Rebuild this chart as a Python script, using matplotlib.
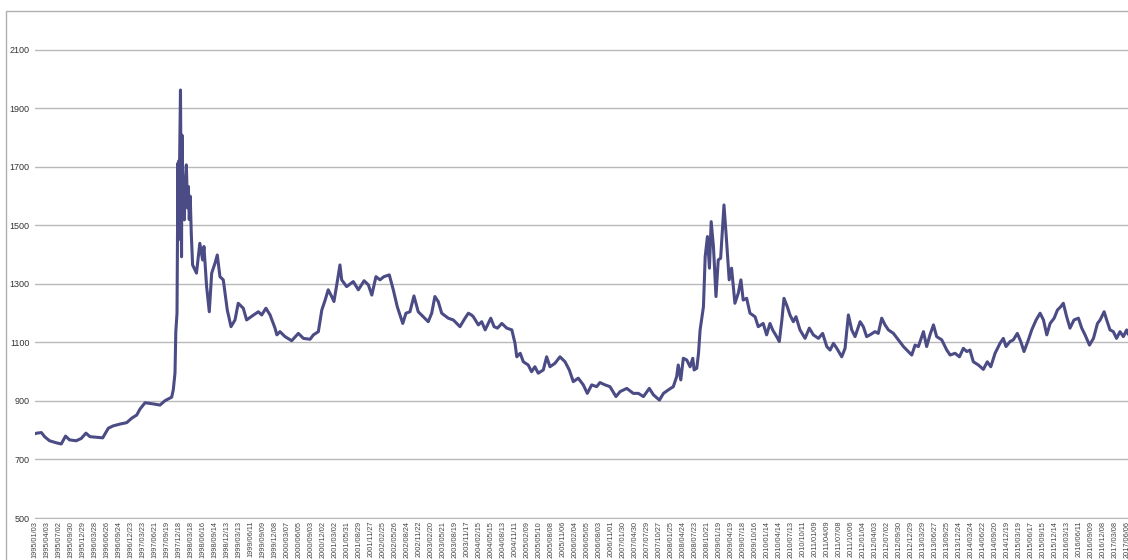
import matplotlib
matplotlib.use('Agg')
import matplotlib.pyplot as plt
from matplotlib.patches import Rectangle
import pandas as pd

plt.rcParams['font.family'] = ['Liberation Sans', 'DejaVu Sans']

# KRW/USD daily rate
dates = [
    # 1995
    '1995-01-03', '1995-01-16', '1995-02-20', '1995-03-16', '1995-04-22', '1995-06-12',
    '1995-07-19', '1995-08-20', '1995-09-19', '1995-11-08', '1995-12-16',
    # 1996
    '1996-01-20', '1996-02-19', '1996-04-10', '1996-05-25', '1996-07-06', '1996-08-12',
    '1996-10-01', '1996-11-21', '1996-12-28',
    # 1997
    '1997-02-04', '1997-02-28', '1997-04-07', '1997-06-08', '1997-07-28', '1997-09-04',
    '1997-10-24', '1997-11-05', '1997-11-18', '1997-11-24', '1997-12-03', '1997-12-10',
    '1997-12-12', '1997-12-15', '1997-12-18', '1997-12-22', '1997-12-29',
    # 1998
    '1998-01-06', '1998-01-09', '1998-01-16', '1998-01-27', '1998-02-03', '1998-02-11',
    '1998-02-20', '1998-02-26', '1998-03-05', '1998-03-12', '1998-03-20', '1998-03-30',
    '1998-04-28', '1998-05-23', '1998-06-13', '1998-06-23', '1998-07-13', '1998-08-02',
    '1998-08-20', '1998-09-14', '1998-10-01', '1998-10-21', '1998-11-15', '1998-12-15',
    # 1999
    '1999-01-12', '1999-02-11', '1999-03-07', '1999-04-14', '1999-05-09', '1999-06-18',
    '1999-08-05', '1999-08-30', '1999-10-01', '1999-11-01', '1999-12-08', '1999-12-22',
    # 2000
    '2000-01-14', '2000-02-21', '2000-04-11', '2000-05-31', '2000-07-08', '2000-08-27',
    '2000-09-21', '2000-10-28', '2000-11-23', '2000-12-18',
    # 2001
    '2001-01-10', '2001-02-05', '2001-02-22', '2001-03-19', '2001-04-08', '2001-04-21',
    '2001-05-28', '2001-07-17', '2001-08-24', '2001-10-06', '2001-11-07', '2001-12-03',
    # 2002
    '2002-01-03', '2002-02-02', '2002-03-04', '2002-04-13', '2002-05-13', '2002-06-12',
    '2002-07-23', '2002-08-16', '2002-09-15', '2002-10-15', '2002-11-16', '2002-12-23',
    # 2003
    '2003-01-30', '2003-02-25', '2003-03-21', '2003-04-15', '2003-05-11', '2003-06-29',
    '2003-08-06', '2003-09-25', '2003-11-02', '2003-11-27', '2003-12-20',
    # 2004
    '2004-01-03', '2004-02-10', '2004-03-06', '2004-04-01', '2004-05-13', '2004-06-07',
    '2004-07-02', '2004-08-04', '2004-09-10', '2004-10-18', '2004-11-11', '2004-11-24',
    '2004-12-20',
    # 2005
    '2005-01-12', '2005-02-18', '2005-03-15', '2005-04-09', '2005-05-04', '2005-06-11',
    '2005-07-06', '2005-07-31', '2005-09-07', '2005-10-14', '2005-11-21', '2005-12-23',
    # 2006
    '2006-01-22', '2006-02-28', '2006-04-07', '2006-05-07', '2006-06-09', '2006-07-16',
    '2006-08-10', '2006-09-17', '2006-10-24', '2006-12-08',
    # 2007
    '2007-01-08', '2007-02-27', '2007-04-17', '2007-05-25', '2007-07-02', '2007-08-15',
    '2007-09-15', '2007-10-30', '2007-11-29',
    # 2008
    '2008-01-05', '2008-02-11', '2008-03-07', '2008-03-19', '2008-04-07', '2008-04-26',
    '2008-05-22', '2008-06-16', '2008-07-06', '2008-07-16', '2008-08-05', '2008-08-18',
    '2008-08-30', '2008-09-24', '2008-10-07', '2008-10-24', '2008-11-08', '2008-11-21',
    '2008-12-08', '2008-12-27',
    # 2009
    '2009-01-13', '2009-01-31', '2009-02-25', '2009-03-16', '2009-04-05', '2009-04-23',
    '2009-05-18', '2009-06-12', '2009-07-02', '2009-07-19', '2009-08-14', '2009-09-08',
    '2009-10-16', '2009-11-09', '2009-12-16',
    # 2010
    '2010-01-11', '2010-02-05', '2010-02-25', '2010-03-27', '2010-04-16', '2010-05-06',
    '2010-05-21', '2010-06-15', '2010-07-05', '2010-07-30', '2010-08-19', '2010-09-18',
    '2010-10-26', '2010-11-27', '2010-12-27',
    # 2011
    '2011-02-03', '2011-03-07', '2011-04-07', '2011-05-02', '2011-05-27', '2011-06-21',
    '2011-07-28', '2011-08-22', '2011-09-16', '2011-10-11', '2011-11-05', '2011-12-13',
    # 2012
    '2012-01-06', '2012-01-31', '2012-02-25', '2012-04-03', '2012-04-27', '2012-05-23',
    '2012-06-17', '2012-07-12', '2012-08-19', '2012-09-25', '2012-11-02', '2012-12-09',
    # 2013
    '2013-01-03', '2013-01-28', '2013-02-22', '2013-04-01', '2013-04-25', '2013-05-20',
    '2013-06-15', '2013-07-09', '2013-08-16', '2013-09-23', '2013-10-18', '2013-11-24',
    '2013-12-27',
    # 2014
    '2014-01-25', '2014-02-20', '2014-03-16', '2014-04-10', '2014-05-18', '2014-06-24',
    '2014-07-24', '2014-08-19', '2014-09-20', '2014-10-27', '2014-11-21', '2014-12-11',
    # 2015
    '2015-01-10', '2015-02-04', '2015-03-06', '2015-04-01', '2015-04-25', '2015-05-28',
    '2015-06-22', '2015-07-25', '2015-08-24', '2015-09-18', '2015-10-13', '2015-11-07',
    '2015-12-07',
    # 2016
    '2016-01-01', '2016-01-25', '2016-02-14', '2016-03-10', '2016-04-04', '2016-05-04',
    '2016-06-06', '2016-07-01', '2016-07-26', '2016-08-28', '2016-09-27', '2016-10-27',
    '2016-11-16', '2016-12-16',
    # 2017
    '2017-01-04', '2017-01-29', '2017-02-23', '2017-03-19', '2017-04-14', '2017-05-09',
    '2017-06-03', '2017-06-13',
]

rates = [
    # 1995
    788, 790, 792, 778, 764, 757,
    753, 780, 767, 764, 772,
    # 1996
    790, 778, 776, 774, 807, 815,
    821, 826, 841,
    # 1997
    852, 872, 894, 890, 886, 901,
    913, 938, 996, 1137, 1200, 1713,
    1450, 1720, 1550, 1700, 1963,
    # 1998
    1393, 1809, 1600, 1519, 1650, 1707,
    1560, 1633, 1520, 1600, 1473, 1365,
    1337, 1439, 1382, 1428, 1291, 1205,
    1337, 1371, 1399, 1325, 1314, 1211,
    # 1999
    1154, 1177, 1234, 1217, 1177, 1190,
    1205, 1194, 1217, 1194, 1149, 1126,
    # 2000
    1137, 1120, 1106, 1131, 1114, 1111,
    1126, 1137, 1211, 1245,
    # 2001
    1280, 1257, 1240, 1308, 1365, 1314,
    1291, 1308, 1280, 1311, 1297, 1262,
    # 2002
    1325, 1314, 1325, 1331, 1280, 1222,
    1165, 1200, 1205, 1259, 1205, 1188,
    # 2003
    1171, 1200, 1257, 1240, 1200, 1183,
    1177, 1154, 1183, 1200, 1194,
    # 2004
    1188, 1160, 1171, 1143, 1183, 1154,
    1149, 1165, 1149, 1143, 1097, 1051,
    1063,
    # 2005
    1034, 1023, 1000, 1017, 995, 1006,
    1051, 1017, 1029, 1051, 1034, 1006,
    # 2006
    966, 978, 955, 926, 955, 949,
    963, 955, 949, 915,
    # 2007
    932, 943, 926, 926, 915, 943,
    921, 903, 926,
    # 2008
    938, 949, 983, 1023, 972, 1046,
    1040, 1017, 1046, 1006, 1012, 1063,
    1143, 1222, 1393, 1462, 1354, 1513,
    1428, 1257,
    # 2009
    1382, 1388, 1570, 1450, 1314, 1354,
    1234, 1268, 1314, 1245, 1251, 1200,
    1188, 1154, 1165,
    # 2010
    1126, 1165, 1143, 1120, 1103, 1180,
    1251, 1222, 1194, 1171, 1188, 1143,
    1114, 1149, 1126,
    # 2011
    1114, 1131, 1086, 1074, 1097, 1080,
    1051, 1080, 1194, 1143, 1120, 1171,
    # 2012
    1154, 1120, 1126, 1137, 1131, 1183,
    1160, 1143, 1131, 1109, 1086, 1069,
    # 2013
    1057, 1091, 1086, 1137, 1086, 1126,
    1160, 1120, 1109, 1074, 1057, 1063,
    1051,
    # 2014
    1080, 1069, 1074, 1034, 1023, 1008,
    1034, 1017, 1063, 1097, 1114, 1086,
    # 2015
    1103, 1109, 1131, 1103, 1069, 1109,
    1143, 1177, 1200, 1177, 1126, 1165,
    1183,
    # 2016
    1211, 1222, 1234, 1188, 1149, 1177,
    1183, 1149, 1126, 1091, 1114, 1165,
    1177, 1205,
    # 2017
    1177, 1143, 1137, 1114, 1137, 1120,
    1143, 1130,
]

y_ticks = [500, 700, 900, 1100, 1300, 1500, 1700, 1900, 2100]
tick_dates = pd.date_range('1995-01-03', '2017-06-06', freq='90D')

x = pd.to_datetime(dates)

fig = plt.figure(figsize=(11.28, 5.6), dpi=100)
ax = fig.add_axes([35 / 1128, 42 / 560, 1 - 35 / 1128, 507 / 560])

ax.plot(x, rates, color='#4b4b85', linewidth=2.2, solid_joinstyle='round')

ax.set_ylim(500, 2233)
ax.set_yticks(y_ticks)
ax.set_xlim(pd.Timestamp('1995-01-03'), pd.Timestamp('2017-06-13'))
ax.set_xticks(tick_dates)
ax.set_xticklabels([d.strftime('%Y/%m/%d') for d in tick_dates],
                   rotation=90, fontsize=5.3, color='#444444', va='top', ha='center')
ax.tick_params(axis='y', labelsize=6.5, labelcolor='#333333', length=0, pad=4)
ax.tick_params(axis='x', length=0, pad=2)

ax.grid(axis='y', color='#b9b9b9', linewidth=1.0)
ax.set_axisbelow(True)
for side in ['top', 'right', 'left']:
    ax.spines[side].set_visible(False)
ax.spines['bottom'].set_color('#b9b9b9')

# outer chart border (top and left edges visible)
fig.add_artist(Rectangle((6 / 1128, -0.1), 1.2, 0.1 + 549 / 560,
                         transform=fig.transFigure, fill=False,
                         edgecolor='#b0b0b0', linewidth=1.0))

fig.savefig('out.png', dpi=100)
